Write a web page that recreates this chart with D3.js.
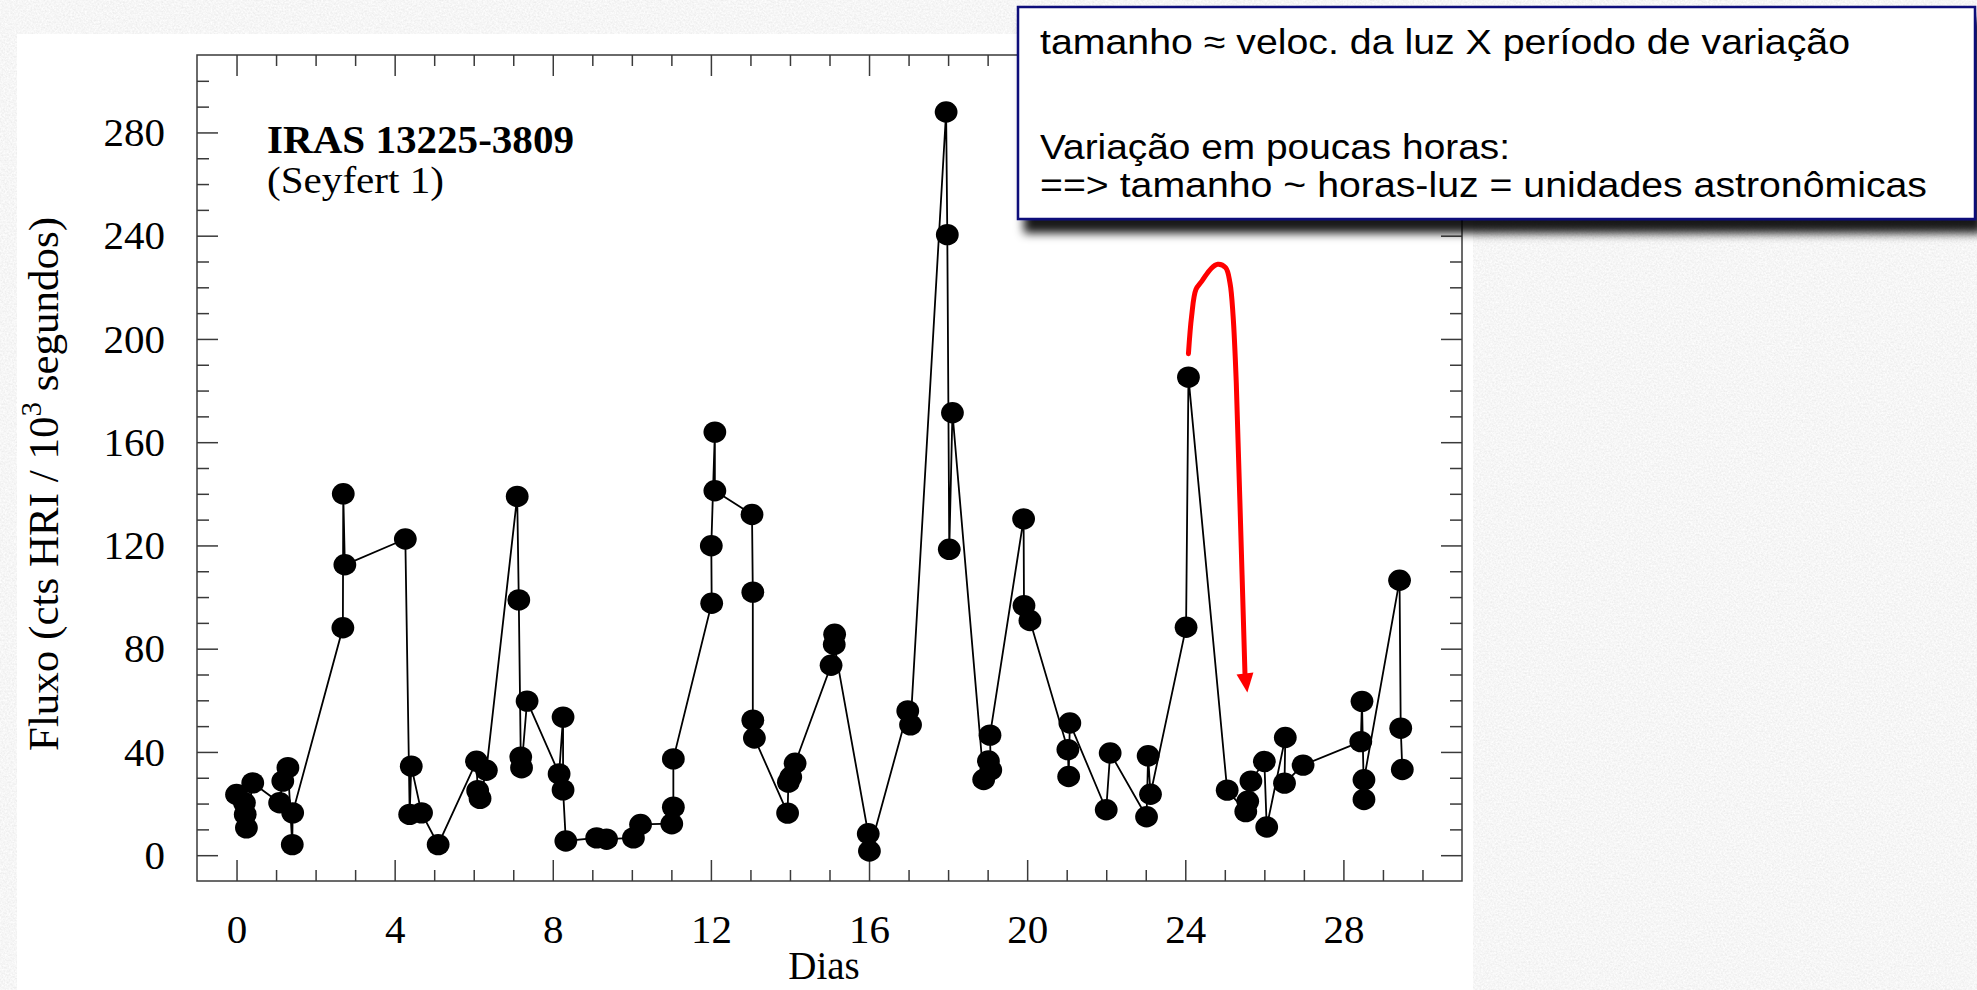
<!DOCTYPE html>
<html>
<head>
<meta charset="utf-8">
<script src="https://cdn.jsdelivr.net/npm/d3@7"></script>
<style>
body { margin: 0; background: #ebebeb; }
svg { display: block; }
.axis text { font-family: "Liberation Serif", "Times New Roman", serif; font-size: 41px; fill: #000; }
.axis line { stroke: #3a3a3a; stroke-width: 1.5px; }
.axis path { display: none; }
.serif { font-family: "Liberation Serif", "Times New Roman", serif; fill: #000; }
.note { font-family: "Liberation Sans", Arial, sans-serif; font-size: 35px; fill: #000; }
</style>
</head>
<body>
<svg width="1977" height="990"></svg>
<script>
// **** Light curve values (time order) ****
var days = [0.00, 0.20, 0.22, 0.25, 0.41, 1.09, 1.17, 1.30, 1.41, 1.42,
            2.69, 2.70, 2.74, 4.27, 4.38, 4.42, 4.68, 5.10, 6.07, 6.10,
            6.16, 6.32, 7.10, 7.14, 7.19, 7.21, 7.35, 8.16, 8.26, 8.26,
            8.33, 9.11, 9.36, 10.04, 10.22, 11.01, 11.05, 11.05, 12.02, 12.01,
            12.10, 12.10, 13.04, 13.06, 13.06, 13.10, 13.94, 13.96, 14.02, 14.13,
            15.04, 15.13, 15.12, 15.98, 16.01, 16.98, 17.05, 17.95, 17.98, 18.03,
            18.11, 18.90, 19.02, 19.08, 19.06, 19.91, 19.92, 20.07, 21.03, 21.05,
            21.08, 22.00, 22.10, 23.02, 23.06, 23.12, 24.02, 24.08, 25.06, 25.53,
            25.58, 25.66, 26.00, 26.06, 26.53, 26.51, 26.98, 28.44, 28.47, 28.52,
            28.52, 29.42, 29.45, 29.49];
var flux = [23.5, 20.3, 15.8, 10.6, 28.0, 20.3, 28.7, 33.9, 4.1, 16.4,
            88.1, 140.0, 112.5, 122.5, 15.8, 34.5, 16.4, 4.1, 36.4, 25.0,
            22.0, 32.9, 139.0, 98.9, 38.0, 33.9, 59.7, 31.5, 53.5, 25.3,
            5.5, 6.7, 6.2, 6.7, 11.9, 12.2, 18.6, 37.3, 97.6, 119.9,
            163.9, 141.2, 132.0, 101.9, 52.3, 45.4, 16.3, 28.3, 30.3, 35.6,
            73.6, 85.6, 81.6, 8.3, 1.6, 55.9, 50.5, 287.9, 240.4, 118.5,
            171.4, 29.3, 36.5, 33.0, 46.5, 130.3, 96.7, 90.9, 40.9, 30.5,
            51.2, 17.6, 39.6, 14.9, 38.5, 23.6, 88.3, 185.2, 25.2, 16.9,
            20.9, 28.7, 36.3, 10.9, 45.6, 27.9, 34.9, 44.0, 59.6, 21.6,
            29.2, 106.5, 49.2, 33.2];

var xTicks = [0, 4, 8, 12, 16, 20, 24, 28];
var yTicks = [0, 40, 80, 120, 160, 200, 240, 280];

var objectName = "IRAS 13225-3809";
var objectType = "(Seyfert 1)";

var noteLines = ["tamanho \u2248 veloc. da luz X per\u00edodo de varia\u00e7\u00e3o",
                 "Varia\u00e7\u00e3o em poucas horas:",
                 "==> tamanho ~ horas-luz = unidades astron\u00f4micas"];

// hand drawn red arrow, in data units (days, flux)
var arrowDays = [24.08, 24.16, 24.27, 24.42, 24.65, 24.82, 25.02, 25.13, 25.21, 25.29, 25.38, 25.51];
var arrowFlux = [194.3, 208.8, 219.2, 222.4, 227.2, 228.9, 227.6, 221.8, 208.8, 183.0, 137.8, 70.4];
var arrowTip = [25.57, 63.0];

// **** Scales ****
var xScale = d3.scaleLinear().domain([-1, 31]).range([197, 1462]);
var yScale = d3.scaleLinear().domain([-10, 310]).range([881, 55]);

var svg = d3.select("svg");
var defs = svg.append("defs");

// marble-ish slide background
var noise = defs.append("filter").attr("id", "noise").attr("x", 0).attr("y", 0).attr("width", "100%").attr("height", "100%");
noise.append("feTurbulence").attr("type", "fractalNoise").attr("baseFrequency", 0.55).attr("numOctaves", 3).attr("seed", 7);
noise.append("feColorMatrix").attr("type", "matrix")
    .attr("values", "0.22 0 0 0 0.81  0.22 0 0 0 0.81  0.22 0 0 0 0.81  0 0 0 0 1");

var shadow = defs.append("filter").attr("id", "shadow").attr("x", "-5%").attr("y", "-5%").attr("width", "120%").attr("height", "140%");
shadow.append("feDropShadow").attr("dx", 7).attr("dy", 13).attr("stdDeviation", 5)
    .attr("flood-color", "#000").attr("flood-opacity", 0.9);

svg.append("rect").attr("width", 1977).attr("height", 990).attr("filter", "url(#noise)");
svg.append("rect").attr("x", 17).attr("y", 34).attr("width", 1456).attr("height", 956).style("fill", "#fff");

// **** Axes (ticks inward on all four sides) ****
var xMinor = d3.range(1, 31).filter(function (d) { return d % 4 != 0; });
var yMinor = d3.range(10, 310, 10).filter(function (d) { return d % 40 != 0; });

svg.append("g").attr("class", "axis").attr("transform", "translate(0,881)")
    .call(d3.axisBottom(xScale).tickValues(xTicks).tickSize(-21).tickPadding(32.6));
svg.append("g").attr("class", "axis").attr("transform", "translate(0,881)")
    .call(d3.axisBottom(xScale).tickValues(xMinor).tickSize(-11).tickFormat(""));
svg.append("g").attr("class", "axis").attr("transform", "translate(0,55)")
    .call(d3.axisTop(xScale).tickValues(xTicks).tickSize(-21).tickFormat(""));
svg.append("g").attr("class", "axis").attr("transform", "translate(0,55)")
    .call(d3.axisTop(xScale).tickValues(xMinor).tickSize(-11).tickFormat(""));

svg.append("g").attr("class", "axis").attr("transform", "translate(197,0)")
    .call(d3.axisLeft(yScale).tickValues(yTicks).tickSize(-21).tickPadding(32));
svg.append("g").attr("class", "axis").attr("transform", "translate(197,0)")
    .call(d3.axisLeft(yScale).tickValues(yMinor).tickSize(-12).tickFormat(""));
svg.append("g").attr("class", "axis").attr("transform", "translate(1462,0)")
    .call(d3.axisRight(yScale).tickValues(yTicks).tickSize(-21).tickFormat(""));
svg.append("g").attr("class", "axis").attr("transform", "translate(1462,0)")
    .call(d3.axisRight(yScale).tickValues(yMinor).tickSize(-12).tickFormat(""));

svg.append("rect").attr("x", 197).attr("y", 55).attr("width", 1265).attr("height", 826)
    .style("fill", "none").style("stroke", "#3a3a3a").style("stroke-width", 1.5);

// **** Light curve ****
var idx = d3.range(days.length);
var line = d3.line()
    .x(function (i) { return xScale(days[i]); })
    .y(function (i) { return yScale(flux[i]); });

svg.append("path").datum(idx).attr("d", line)
    .style("fill", "none").style("stroke", "#000").style("stroke-width", 1.8);

svg.selectAll(".pt").data(idx).enter().append("ellipse").attr("class", "pt")
    .attr("cx", function (i) { return xScale(days[i]); })
    .attr("cy", function (i) { return yScale(flux[i]); })
    .attr("rx", 11.4).attr("ry", 10.7)
    .style("fill", "#000");

// **** Labels ****
svg.append("text").attr("class", "serif").attr("x", 267).attr("y", 153)
    .style("font-size", "39px").style("font-weight", "bold")
    .attr("textLength", 307).attr("lengthAdjust", "spacingAndGlyphs")
    .text(objectName);
svg.append("text").attr("class", "serif").attr("x", 267).attr("y", 193)
    .style("font-size", "37px")
    .attr("textLength", 177).attr("lengthAdjust", "spacingAndGlyphs")
    .text(objectType);

svg.append("text").attr("class", "serif").attr("x", 824).attr("y", 979)
    .attr("text-anchor", "middle").style("font-size", "39px").text("Dias");

var ylab = svg.append("text").attr("class", "serif")
    .attr("transform", "translate(58,484) rotate(-90)")
    .attr("text-anchor", "middle").style("font-size", "43px");
ylab.append("tspan").text("Fluxo (cts HRI / 10");
ylab.append("tspan").attr("dy", -17).style("font-size", "29px").text("3");
ylab.append("tspan").attr("dy", 17).text(" segundos)");

// **** Red arrow ****
var arrowLine = d3.line().curve(d3.curveCatmullRom)
    .x(function (i) { return xScale(arrowDays[i]); })
    .y(function (i) { return yScale(arrowFlux[i]); });
svg.append("path").datum(d3.range(arrowDays.length)).attr("d", arrowLine)
    .style("fill", "none").style("stroke", "#ff0000").style("stroke-width", 5)
    .style("stroke-linecap", "round").style("stroke-linejoin", "round");

var n = arrowDays.length - 1;
var bx = xScale(arrowDays[n]), by = yScale(arrowFlux[n]);
var tx = xScale(arrowTip[0]), ty = yScale(arrowTip[1]);
var len = Math.hypot(tx - bx, ty - by);
var px = -(ty - by) / len * 8.5, py = (tx - bx) / len * 8.5;
svg.append("path")
    .attr("d", "M" + (bx + px) + "," + (by + py) + "L" + (bx - px) + "," + (by - py) + "L" + tx + "," + ty + "Z")
    .style("fill", "#ff0000");

// **** Note box ****
svg.append("rect").attr("x", 1018).attr("y", 7).attr("width", 957).attr("height", 212)
    .style("fill", "#fff").style("stroke", "#0a0a7a").style("stroke-width", 2.5)
    .attr("filter", "url(#shadow)");

var noteY = [54, 159, 197];
var noteW = [810, 470, 887];
svg.selectAll(".note").data(noteLines).enter().append("text").attr("class", "note")
    .attr("x", 1040)
    .attr("y", function (d, i) { return noteY[i]; })
    .attr("textLength", function (d, i) { return noteW[i]; })
    .attr("lengthAdjust", "spacingAndGlyphs")
    .text(function (d) { return d; });
</script>
</body>
</html>
